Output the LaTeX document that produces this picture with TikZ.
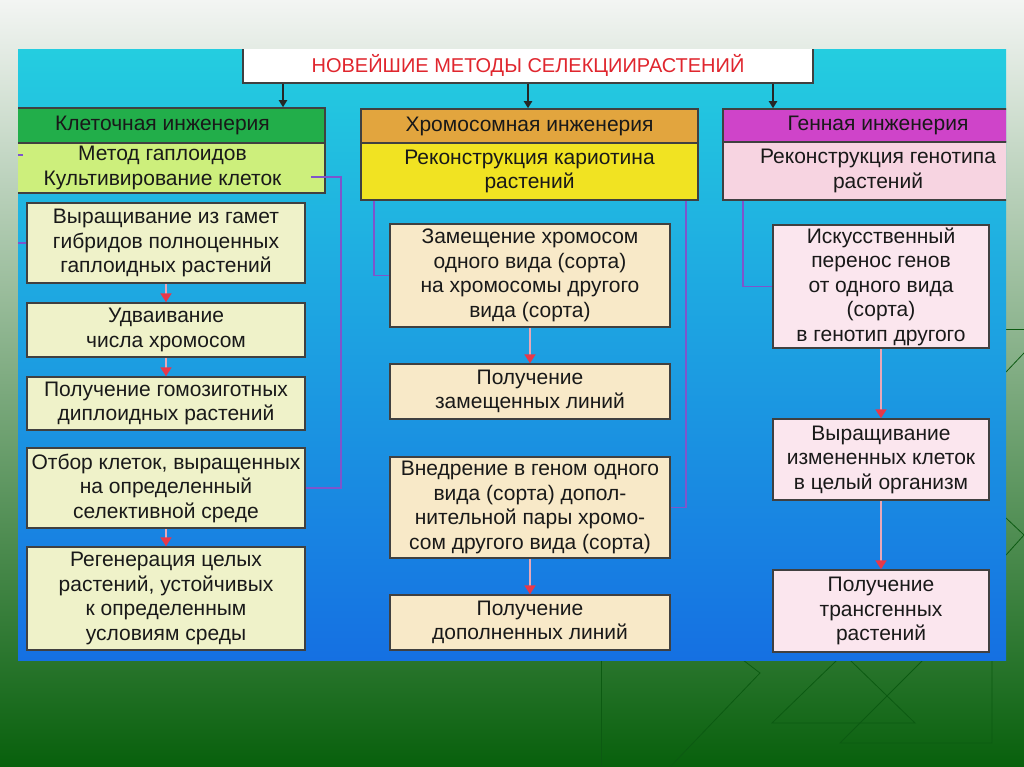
\documentclass[tikz,border=0pt]{standalone}
\usepackage{fontspec}
\setmainfont{Liberation Sans}
\usetikzlibrary{arrows.meta,calc}
\definecolor{slideTop}{HTML}{F3F5F3}
\definecolor{slideMid}{HTML}{5E9E5E}
\definecolor{slideBot}{HTML}{08600C}
\definecolor{decoGreen}{HTML}{0C5A12}
\definecolor{panelTop}{HTML}{24CDE0}
\definecolor{panelBot}{HTML}{1570E2}
\definecolor{cellHead}{HTML}{22AE4A}
\definecolor{cellSub}{HTML}{CDEF7C}
\definecolor{cellBox}{HTML}{EFF2C9}
\definecolor{chromHead}{HTML}{E2A53E}
\definecolor{chromSub}{HTML}{F1E322}
\definecolor{chromBox}{HTML}{F8E9C8}
\definecolor{geneHead}{HTML}{CF44C9}
\definecolor{geneSub}{HTML}{F7D4E1}
\definecolor{geneBox}{HTML}{FBE6EE}
\definecolor{linkViolet}{HTML}{7E55CC}
\definecolor{flowRed}{HTML}{E8384A}
\definecolor{flowPink}{HTML}{E8A8B8}
\definecolor{titleRed}{HTML}{E0262E}

\begin{document}
\begin{tikzpicture}[
    x=1pt, y=-1pt,
    every node/.style={rectangle, draw=black!75, line width=1.5pt, align=center, inner sep=1pt, text=black!90, font=\fontsize{21}{24.5}\selectfont},
    cellbox/.style={fill=cellBox, minimum width=278pt},
    chrombox/.style={fill=chromBox, minimum width=280pt},
    genebox/.style={fill=geneBox, minimum width=216pt},
    link/.style={draw=linkViolet, line width=1.6pt},
    flow/.style={draw=flowPink, line width=2pt, -{Triangle[length=9pt,width=11pt,color=flowRed]}},
    down/.style={draw=black!85, line width=2pt, -{Triangle[length=7pt,width=8pt]}}
]
\useasboundingbox (0,0) rectangle (1024,767);
\shade[top color=slideTop, middle color=slideMid, bottom color=slideBot] (0,0) rectangle (1024,767);
\draw[decoGreen, line width=0.8pt] (601,660) -- (601,767);
\draw[decoGreen, line width=0.8pt] (743,660) -- (760,673) -- (670,767);
\draw[decoGreen, line width=0.8pt] (837,660) -- (772,723) -- (915,723) -- (850,660);
\draw[decoGreen, line width=0.8pt] (923,660) -- (840,743) -- (992,743) -- (992,660);
\draw[decoGreen, line width=0.8pt] (1006,329) -- (1024,329);
\draw[decoGreen, line width=0.8pt] (1006,372) -- (1024,353);
\draw[decoGreen, line width=0.8pt] (1006,518) -- (1024,535) -- (1006,555);
\shade[top color=panelTop, bottom color=panelBot] (18,50) rectangle (1006,660);
\begin{scope}
\clip (18,50) rectangle (1006,660);
\node[fill=white, minimum width=570pt, minimum height=36pt, text=titleRed, font=\fontsize{20}{22}\selectfont] (title) at (528,65) {НОВЕЙШИЕ МЕТОДЫ СЕЛЕКЦИИРАСТЕНИЙ};

\node[fill=cellHead, minimum width=325pt, minimum height=35pt] (cellhead) at (162.5,125.5) {Клеточная инженерия};
\node[fill=cellSub, minimum width=325pt, minimum height=50pt] (cellsub) at (162.5,168) {Метод гаплоидов\\Культивирование клеток};
\node[cellbox, minimum height=80pt] (grow) at (166,243) {Выращивание из гамет\\гибридов полноценных\\гаплоидных растений};
\node[cellbox, minimum height=54pt] (dbl) at (166,330) {Удваивание\\числа хромосом};
\node[cellbox, minimum height=53pt] (homo) at (166,403.5) {Получение гомозиготных\\диплоидных растений};
\node[cellbox, minimum height=80pt] (sel) at (166,488) {Отбор клеток, выращенных\\на определенный\\селективной среде};
\node[cellbox, minimum height=103pt] (regen) at (166,598.5) {Регенерация целых\\растений, устойчивых\\к определенным\\условиям среды};

\node[fill=chromHead, minimum width=337pt, minimum height=34pt] (chromhead) at (529.5,126) {Хромосомная инженерия};
\node[fill=chromSub, minimum width=337pt, minimum height=57pt] (chromsub) at (529.5,171.5) {Реконструкция кариотина\\растений};
\node[chrombox, minimum height=103pt] (replace) at (530,275.5) {Замещение хромосом\\одного вида (сорта)\\на хромосомы другого\\вида (сорта)};
\node[chrombox, minimum height=55pt] (substl) at (530,391.5) {Получение\\замещенных линий};
\node[chrombox, minimum height=101pt] (addgen) at (530,507.5) {Внедрение в геном одного\\вида (сорта) допол-\\нительной пары хромо-\\сом другого вида (сорта)};
\node[chrombox, minimum height=55pt] (addl) at (530,622.5) {Получение\\дополненных линий};

\node[fill=geneHead, minimum width=310pt, minimum height=33pt] (genehead) at (878,125.5) {Генная инженерия};
\node[fill=geneSub, minimum width=310pt, minimum height=58pt] (genesub) at (878,171) {Реконструкция генотипа\\растений};
\node[genebox, minimum height=123pt] (transfer) at (881,286.5) {Искусственный\\перенос генов\\от одного вида\\(сорта)\\в генотип другого};
\node[genebox, minimum height=81pt] (grown) at (881,459.5) {Выращивание\\измененных клеток\\в целый организм};
\node[genebox, minimum height=82pt] (transg) at (881,611) {Получение\\трансгенных\\растений};

\draw[down] ([xshift=-245pt]title.south) -- ([xshift=-245pt]title.south |- cellhead.north);
\draw[down] (title.south) -- (title.south |- chromhead.north);
\draw[down] ([xshift=245pt]title.south) -- ([xshift=245pt]title.south |- genehead.north);

\draw[link] ([xshift=-15pt,yshift=-9pt]cellsub.east) -- ++(30,0) |- (sel.east);
\draw[link] (grow.west) -- ++(-15,0) |- ([xshift=24pt,yshift=13pt]cellsub.west);
\draw[link] ([xshift=14pt]chromsub.south west) |- (replace.west);
\draw[link] ([xshift=-13pt]chromsub.south east) |- (addgen.east);
\draw[link] ([xshift=21pt]genesub.south west) |- (transfer.west);

\draw[flow] (grow.south) -- (dbl.north);
\draw[flow] (dbl.south) -- (homo.north);
\draw[flow] (sel.south) -- (regen.north);
\draw[flow] (replace.south) -- (substl.north);
\draw[flow] (addgen.south) -- (addl.north);
\draw[flow] (transfer.south) -- (grown.north);
\draw[flow] (grown.south) -- (transg.north);
\end{scope}
\end{tikzpicture}
\end{document}
